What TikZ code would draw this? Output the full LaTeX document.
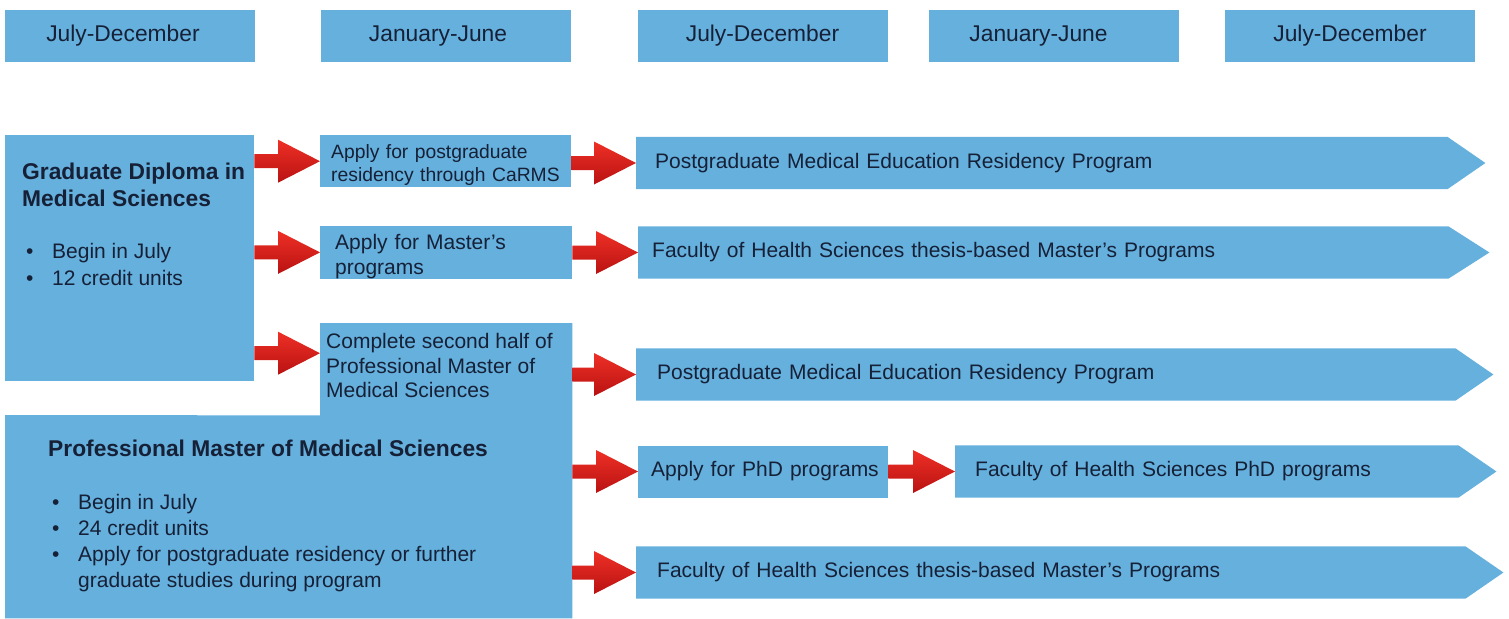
\documentclass[tikz,border=0pt]{standalone}
\usepackage{fontspec}
\setmainfont{Liberation Sans}
\usetikzlibrary{calc,backgrounds}
\definecolor{boxblue}{RGB}{101,176,221}
\definecolor{txt}{RGB}{22,32,55}
\definecolor{arrtop}{RGB}{238,48,38}
\definecolor{arrbot}{RGB}{185,18,18}
\newcommand\bul{\makebox[28pt][l]{\hspace{2pt}•}}
\newcommand\nobul{\makebox[28pt][l]{}}
\newcommand\ind[1]{\hspace*{#1pt}}
\newcommand\pentagon[2]{\begin{pgfonlayer}{background}\fill[boxblue] (#1.north west) -- (#1.north east) -- ($(#1.east)+(#2,0)$) -- (#1.south east) -- (#1.south west) -- cycle;\end{pgfonlayer}}
\newcommand\blockarrow[2]{\shade[top color=arrtop, bottom color=arrbot]
  let \p1=(#1), \p2=(#2) in
  (\x1,{\y1+7pt}) -- ({\x2-42pt},{\y1+7pt}) -- ({\x2-42pt},{\y1+21.5pt}) -- (\x2,\y1)
  -- ({\x2-42pt},{\y1-21.5pt}) -- ({\x2-42pt},{\y1-7pt}) -- (\x1,{\y1-7pt}) -- cycle;}
\tikzset{
  bbox/.style={fill=boxblue, draw=none, inner sep=0pt, text=txt},
  hdr/.style={bbox, minimum width=250pt, minimum height=52pt, font=\fontsize{22.8}{26}\selectfont},
  rowtext/.style={inner sep=0pt, text=txt, minimum height=52pt, anchor=west, align=left, font=\fontsize{21}{25}\selectfont},
  txtnode/.style={inner sep=0pt, text=txt, anchor=north west, align=left},
  shapebox/.style={inner sep=0pt, draw=none, anchor=north west},
}
\begin{document}
\begin{tikzpicture}[x=1pt,y=-1pt]
\begin{pgfonlayer}{background}
\useasboundingbox[fill=white] (0,0) rectangle (1509,618);
\end{pgfonlayer}
% headers
\node[hdr] (h1) at (129.5,36) {\hspace*{-13pt}July-December};
\node[hdr] (h2) at (445.5,36) {\hspace*{-15pt}January-June};
\node[hdr] (h3) at (762.5,36) {July-December};
\node[hdr] (h4) at (1053.5,36) {\hspace*{-30pt}January-June};
\node[hdr] (h5) at (1350,36) {July-December};
% graduate diploma
\node[bbox, shapebox, minimum width=249pt, minimum height=246pt] (gd) at (5,135) {};
\node[txtnode, font=\bfseries\fontsize{22.8}{27}\selectfont] (gdT) at (22,162.7) {Graduate Diploma in\\Medical Sciences};
\node[txtnode, font=\fontsize{21}{27}\selectfont] (gdB) at (24,242.7) {\bul Begin in July\\\bul 12 credit units};
% professional master L-shape
\node[shapebox, minimum width=252pt, minimum height=92pt] (cs) at (320,323) {};
\node[shapebox, minimum width=567pt, minimum height=203pt] (pm) at (5,415) {};
\fill[boxblue] (cs.north west) -- (cs.north east) -- (pm.south east) -- (pm.south west) -- (pm.north west) -- (cs.south west) -- cycle;
\node[txtnode, font=\fontsize{21}{24.5}\selectfont] (csT) at (326,333.5) {Complete second half of\\Professional Master of\\Medical Sciences};
\node[txtnode, font=\bfseries\fontsize{22.8}{27}\selectfont] (pmT) at (48,439.5) {Professional Master of Medical Sciences};
\node[txtnode, font=\fontsize{21}{26}\selectfont] (pmB) at (50,494) {\bul Begin in July\\\bul 24 credit units\\\bul Apply for postgraduate residency or further\\\nobul graduate studies during program};
% apply boxes
\node[bbox, anchor=north west, minimum height=52pt, text width=251pt, align=left, font=\fontsize{19.3}{23}\selectfont] (ac) at (320,135) {\rule{0pt}{22pt}\ind{11}Apply for postgraduate\\\ind{11}residency through CaRMS};
\node[bbox, anchor=north west, minimum height=52pt, text width=252pt, align=left, font=\fontsize{21}{25}\selectfont] (am) at (320,226) {\rule{0pt}{23pt}\ind{15}Apply for Master's\\\ind{15}programs};
% rows
\node[rowtext, text width=811pt] (r1) at (636,163) {\ind{19}Postgraduate Medical Education Residency Program};
\node[rowtext, text width=810pt] (r2) at (638,252.5) {\ind{14}Faculty of Health Sciences thesis-based Master's Programs};
\node[rowtext, text width=819pt] (r3) at (636,374.5) {\ind{21}Postgraduate Medical Education Residency Program};
\node[rowtext, bbox, text width=250pt] (ap) at (638,471.5) {\ind{13}Apply for PhD programs};
\node[rowtext, text width=503pt] (r4) at (955,471.5) {\ind{20}Faculty of Health Sciences PhD programs};
\node[rowtext, text width=829pt] (r5) at (636,572.5) {\ind{21}Faculty of Health Sciences thesis-based Master's Programs};
\pentagon{r1}{38}
\pentagon{r2}{41}
\pentagon{r3}{38}
\pentagon{r4}{38}
\pentagon{r5}{38}
% arrows
\coordinate (a3) at ($(cs.west)+(0,-16)$);
\blockarrow{gd.east |- ac.east}{ac.west}
\blockarrow{gd.east |- am.west}{am.west}
\blockarrow{gd.east |- a3}{a3}
\blockarrow{ac.east |- r1.west}{r1.west}
\blockarrow{am.east |- r2.west}{r2.west}
\blockarrow{cs.east |- r3.west}{r3.west}
\blockarrow{pm.east |- ap.west}{ap.west}
\blockarrow{ap.east}{r4.west}
\blockarrow{pm.east |- r5.west}{r5.west}
\end{tikzpicture}
\end{document}
